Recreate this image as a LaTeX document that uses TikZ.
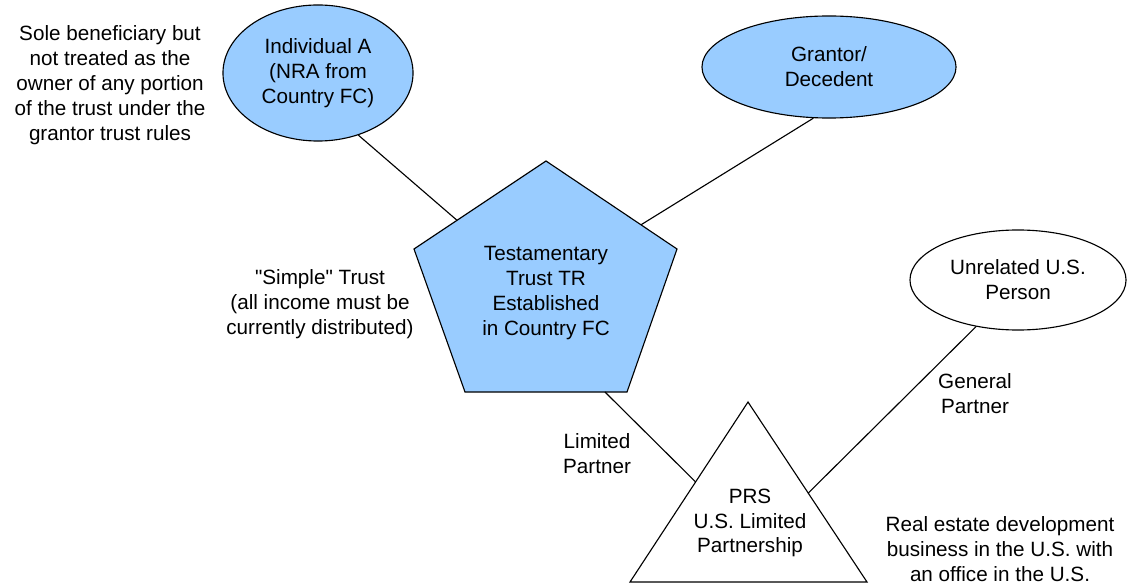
\documentclass[tikz,border=0pt]{standalone}
\usepackage{fontspec}
\setmainfont{Liberation Sans}
\usetikzlibrary{shapes,calc}
\definecolor{fcblue}{HTML}{99CCFF}
\tikzstyle{party}=[ellipse,draw=black,fill=fcblue,line width=0.8pt,inner sep=0pt,align=center]
\tikzstyle{outsider}=[ellipse,draw=black,fill=white,line width=0.8pt,inner sep=0pt,align=center]
\tikzstyle{entity}=[draw=black,line width=0.8pt,line join=miter]
\tikzstyle{link}=[draw,line width=0.8pt]
\tikzstyle{note}=[align=center,inner sep=0pt]

\begin{document}
\begin{tikzpicture}[x=0.025cm,y=-0.025cm,font=\fontsize{14.7}{17.7}\selectfont]
    \useasboundingbox (0,0) rectangle (1129,584);
    % First the persons around the trust
    \node[party,minimum width=4.75cm,minimum height=3.4cm] (indA) at (318,73) {Individual A\\(NRA from\\Country FC)};
    \node[party,minimum width=6.35cm,minimum height=2.55cm] (grantor) at (829,67) {Grantor/\\Decedent};
    \node[outsider,minimum width=5.4cm,minimum height=2.5cm] (unrel) at (1018,280) {Unrelated U.S.\\Person};

    % Corners of the trust pentagon and the partnership triangle
    \foreach \pos/\name in {{(546,161)/trustN}, {(677,249)/trustE}, {(627,392)/trustSE}, {(465,392)/trustSW}, {(414,249)/trustW},
    {(748,402)/prsT}, {(867,582)/prsR}, {(630,582)/prsL}}
        \node[coordinate] (\name) at \pos {};
    \path[entity,fill=fcblue] (trustN) -- (trustE) -- (trustSE) -- (trustSW) -- (trustW) -- cycle;
    \path[entity,fill=white] (prsT) -- (prsR) -- (prsL) -- cycle;
    \node[note] (trust) at (546,293) {Testamentary\\Trust TR\\Established\\in Country FC};
    \node[note] (prs) at (750,523) {PRS\\U.S. Limited\\Partnership};

    % Points where the links touch the two shapes
    \coordinate (trustA) at ($(trustW)!0.326!(trustN)$);
    \coordinate (trustG) at ($(trustN)!0.725!(trustE)$);
    \coordinate (trustP) at ($(trustSW)!0.864!(trustSE)$);
    \coordinate (prsLP) at ($(prsT)!0.444!(prsL)$);
    \coordinate (prsGP) at ($(prsT)!0.506!(prsR)$);

    % Connect them
    \foreach \source/\dest in {indA.303/trustA, grantor.253/trustG, trustP/prsLP, unrel.228/prsGP}
        \path[link] (\source) -- (\dest);

    % Side notes
    \foreach \pos/\name/\label in {{(110,85)/soleNote/{Sole beneficiary but\\not treated as the\\owner of any portion\\of the trust under the\\grantor trust rules}},
    {(320,304)/simpleNote/{\textquotedbl Simple\textquotedbl{} Trust\\(all income must be\\currently distributed)}},
    {(597,454)/lpNote/{Limited\\Partner}}, {(975,394)/gpNote/{General\\Partner}},
    {(1000,549)/bizNote/{Real estate development\\business in the U.S. with\\an office in the U.S.}}}
        \node[note] (\name) at \pos {\label};
\end{tikzpicture}
\end{document}
